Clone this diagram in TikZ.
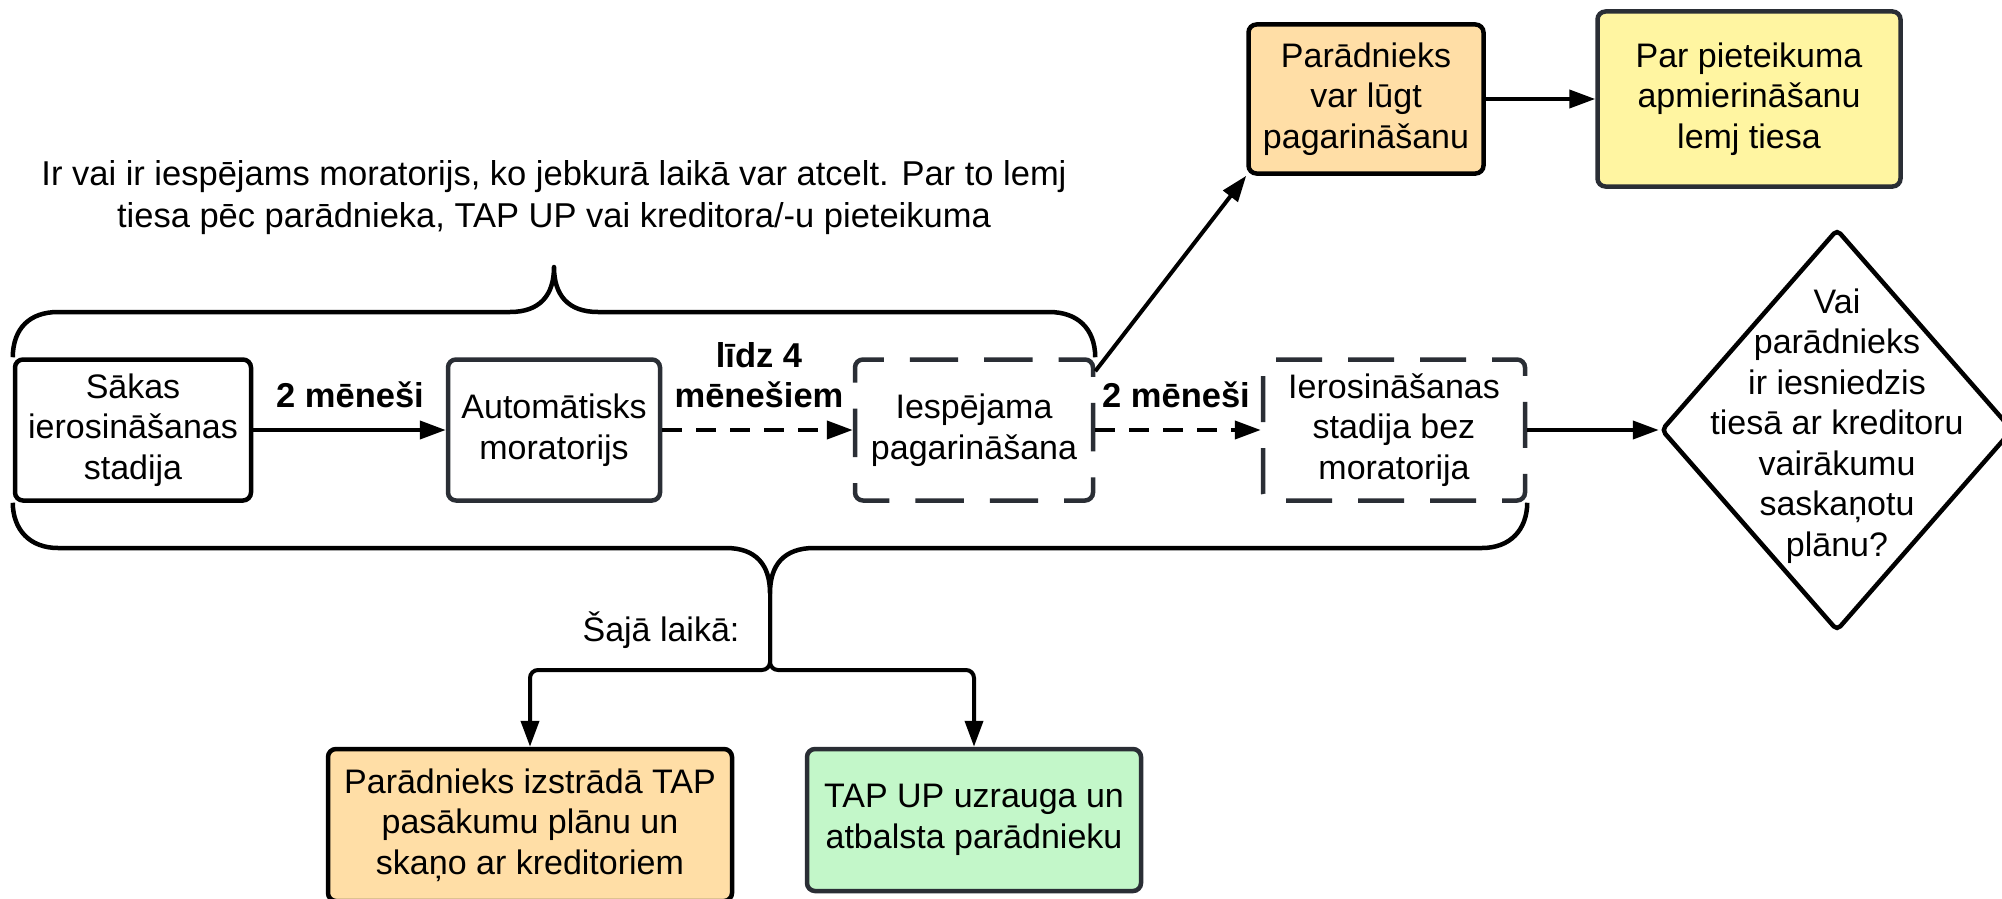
\documentclass[tikz,border=0pt]{standalone}
\usepackage{fontspec}
\setmainfont{Liberation Sans}
\usetikzlibrary{arrows.meta,shapes.geometric}
\definecolor{edgegray}{HTML}{2A2E35}
\definecolor{fillorange}{HTML}{FFDEA6}
\definecolor{fillyellow}{HTML}{FFF5A1}
\definecolor{fillgreen}{HTML}{C3F7C9}
\tikzset{
  box/.style={draw, rounded corners=8pt, line width=4.5pt, align=center, inner sep=0pt},
  dbox/.style={box, draw=edgegray},
  conn/.style={line width=4pt, -{Triangle[length=26pt,width=18pt]}},
  dconn/.style={conn, dash pattern=on 20pt off 14pt},
  brace/.style={line width=4.5pt, line join=round},
  lbl/.style={font=\fontsize{34.5pt}{40pt}\selectfont\bfseries, align=center, inner sep=0pt}
}
\begin{document}
\begin{tikzpicture}[x=1pt,y=-1pt, font=\fontsize{34pt}{40.5pt}\selectfont]
\useasboundingbox[fill=white] (0,0) rectangle (2002,899);

% main row
\node[box, draw=black, minimum width=236pt, minimum height=141pt] (s1) at (133,430) {Sākas\\ierosināšanas\\stadija};
\node[box, draw=edgegray, minimum width=212pt, minimum height=141pt] (s2) at (554,430) {Automātisks\\moratorijs};
\node[dbox, dash pattern=on 48.4pt off 26pt, dash phase=22pt, minimum width=238pt, minimum height=141pt] (s3) at (974,430) {Iespējama\\pagarināšana};
\node[dbox, dash pattern=on 46pt off 26pt, dash phase=21pt, minimum width=262pt, minimum height=141pt] (s4) at (1394,430) {Ierosināšanas\\stadija bez\\moratorija};

% decision
\node[draw, diamond, line width=4.5pt, rounded corners=5pt, inner sep=0pt, minimum width=352pt, minimum height=402pt] (d) at (1837,430) {};
\node[align=center, inner sep=0pt] (dt) at (1837,426) {Vai\\parādnieks\\ir iesniedzis\\tiesā ar kreditoru\\vairākumu\\saskaņotu\\plānu?};

% top right
\node[box, draw=black, fill=fillorange, minimum width=235pt, minimum height=149pt] (p1) at (1366,99) {Parādnieks\\var lūgt\\pagarināšanu};
\node[box, draw=edgegray, fill=fillyellow, minimum width=303pt, minimum height=175pt] (p2) at (1749,99) {Par pieteikuma\\apmierināšanu\\lemj tiesa};

% bottom
\node[box, draw=black, fill=fillorange, minimum width=404pt, minimum height=152pt] (b1) at (530,825) {Parādnieks izstrādā TAP\\pasākumu plānu un\\skaņo ar kreditoriem};
\node[box, draw=edgegray, fill=fillgreen, minimum width=334pt, minimum height=142pt] (b2) at (974,820) {TAP UP uzrauga un\\atbalsta parādnieku};

% texts
\node[align=center, inner sep=0pt, font=\fontsize{34.5pt}{42pt}\selectfont] (top) at (554,198) {Ir vai ir iespējams moratorijs, ko jebkurā laikā var atcelt. Par to lemj\\tiesa pēc parādnieka, TAP UP vai kreditora/-u pieteikuma};
\node[inner sep=0pt] (saja) at (661,630) {Šajā laikā:};
\node[lbl] (l1) at (350,395) {2 mēneši};
\node[lbl] (l2) at (759,375) {līdz 4\\mēnešiem};
\node[lbl] (l3) at (1176,395) {2 mēneši};

% braces
\coordinate (ct) at (554,267);
\coordinate (cb) at (770,593);
\draw[brace] (s1.north west) .. controls (13,328) and (30,312) .. (58,312) -- (510,312)
  .. controls (540,312) and (554,295) .. (ct)
  .. controls (554,295) and (568,312) .. (598,312) -- (1049,312)
  .. controls (1077,312) and (1095,328) .. (s3.north east);
\draw[brace] (s1.south west) .. controls (13,530) and (30,548) .. (58,548) -- (726,548)
  .. controls (756,548) and (770,565) .. (cb)
  .. controls (770,565) and (784,548) .. (814,548) -- (1482,548)
  .. controls (1510,548) and (1527,530) .. (s4.south east);

% connectors
\draw[conn] (s1.east) -- (s2.west);
\draw[dconn] (s2.east) -- (s3.west);
\draw[dconn] (s3.east) -- (s4.west);
\draw[conn] (s4.east) -- (d.west);
\draw[conn] ([yshift=-14pt]s3.north east) -- (p1.south west);
\draw[conn] (p1.east) -- (p2.west);
\draw[conn, rounded corners=8pt] (cb) -- (770,670) -| (b1.north);
\draw[conn, rounded corners=8pt] (cb) -- (770,670) -| (b2.north);
\end{tikzpicture}
\end{document}
